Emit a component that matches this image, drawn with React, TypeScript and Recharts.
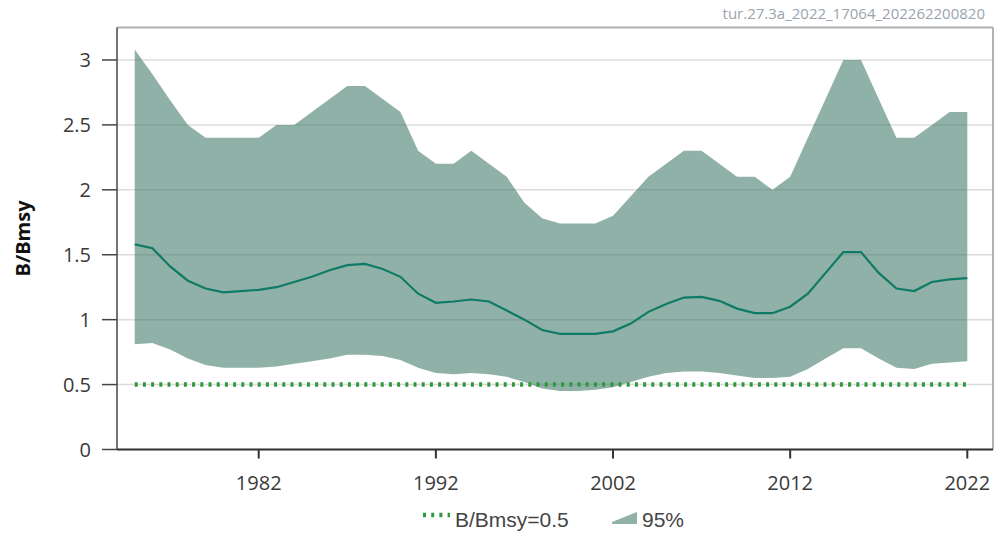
import React from 'react';
import { ComposedChart, Area, Line, XAxis, YAxis, CartesianGrid, ReferenceLine } from 'recharts';

const years = [1975,1976,1977,1978,1979,1980,1981,1982,1983,1984,1985,1986,1987,1988,1989,1990,1991,1992,1993,1994,1995,1996,1997,1998,1999,2000,2001,2002,2003,2004,2005,2006,2007,2008,2009,2010,2011,2012,2013,2014,2015,2016,2017,2018,2019,2020,2021,2022];
const upper = [3.08,2.89,2.69,2.5,2.4,2.4,2.4,2.4,2.5,2.5,2.6,2.7,2.8,2.8,2.7,2.6,2.3,2.2,2.2,2.3,2.2,2.1,1.9,1.78,1.74,1.74,1.74,1.8,1.95,2.1,2.2,2.3,2.3,2.2,2.1,2.1,2.0,2.1,2.4,2.7,3.0,3.0,2.7,2.4,2.4,2.5,2.6,2.6];
const lower = [0.81,0.82,0.77,0.7,0.65,0.63,0.63,0.63,0.64,0.66,0.68,0.7,0.73,0.73,0.72,0.69,0.63,0.59,0.58,0.59,0.58,0.56,0.52,0.47,0.45,0.45,0.46,0.48,0.52,0.56,0.59,0.6,0.6,0.59,0.57,0.55,0.55,0.56,0.62,0.7,0.78,0.78,0.7,0.63,0.62,0.66,0.67,0.68];
const central = [1.58,1.55,1.41,1.3,1.24,1.21,1.22,1.23,1.25,1.29,1.33,1.38,1.42,1.43,1.39,1.33,1.2,1.13,1.14,1.155,1.14,1.07,1.0,0.92,0.89,0.89,0.89,0.91,0.97,1.06,1.12,1.17,1.175,1.145,1.085,1.05,1.05,1.1,1.2,1.36,1.52,1.52,1.36,1.24,1.22,1.29,1.31,1.32];
const bmsyRef = 0.5;
const xTicks = [1982, 1992, 2002, 2012, 2022];
const yTicks = [0, 0.5, 1, 1.5, 2, 2.5, 3];
const yMax = 3.25;
const xDomain = [1974, 2023.45];
const watermark = 'tur.27.3a_2022_17064_202262200820';
const yLabel = 'B/Bmsy';
const legendRef = 'B/Bmsy=0.5';
const legendBand = '95%';

const data = years.map((y, i) => ({
  year: y,
  band: [lower[i], upper[i]],
  central: central[i],
  ref: bmsyRef,
}));

const tickStyle = { fontFamily: 'Open Sans', fontSize: 20, fill: '#3a3a3a' };

export default function App() {
  return (
    <div style={{ position: 'absolute', left: 0, top: 0, width: 996, height: 534, background: '#fff' }}>
      <ComposedChart
        width={996}
        height={534}
        data={data}
        margin={{ top: 27.5, right: 3, left: 0, bottom: 34.5 }}
      >
        <CartesianGrid vertical={false} stroke="#dcdcdc" strokeWidth={1.5} />
        <XAxis
          dataKey="year"
          type="number"
          domain={xDomain}
          ticks={xTicks}
          height={50}
          tickSize={9}
          tickMargin={17}
          tick={tickStyle}
          axisLine={{ stroke: '#333', strokeWidth: 2 }}
          tickLine={{ stroke: '#333', strokeWidth: 2 }}
          allowDataOverflow
        />
        <YAxis
          type="number"
          domain={[0, yMax]}
          ticks={yTicks}
          width={117}
          tickSize={15}
          tickMargin={11}
          tick={tickStyle}
          axisLine={{ stroke: '#444', strokeWidth: 1.5 }}
          tickLine={{ stroke: '#444', strokeWidth: 1.5 }}
          allowDataOverflow
        />
        <ReferenceLine y={yMax} stroke="#b3b3b3" strokeWidth={2} ifOverflow="visible" />
        <ReferenceLine x={xDomain[1]} stroke="#b3b3b3" strokeWidth={2} ifOverflow="visible" />
        <Line
          dataKey="ref"
          stroke="#2e9a3c"
          strokeWidth={4.5}
          strokeDasharray="3 5.2"
          dot={false}
          isAnimationActive={false}
        />
        <Area
          dataKey="band"
          type="linear"
          stroke="none"
          fill="#3b7565"
          fillOpacity={0.57}
          isAnimationActive={false}
        />
        <Line
          dataKey="central"
          type="linear"
          stroke="#0f7b67"
          strokeWidth={2.2}
          dot={false}
          isAnimationActive={false}
        />
      </ComposedChart>
      <svg
        width={996}
        height={534}
        style={{ position: 'absolute', left: 0, top: 0, pointerEvents: 'none' }}
      >
        <text x={985} y={19} textAnchor="end" fontFamily="Open Sans" fontSize={15} fill="#9aa4ae">
          {watermark}
        </text>
        <text
          x={22}
          y={238.5}
          transform="rotate(-90 22 238.5)"
          textAnchor="middle"
          dominantBaseline="central"
          fontFamily="Open Sans"
          fontWeight="bold"
          fontSize={20}
          fill="#111"
        >
          {yLabel}
        </text>
        <line x1={423} y1={515} x2={450} y2={515} stroke="#2e9a3c" strokeWidth={4.5} strokeDasharray="3 5.2" />
        <text x={455} y={527} fontFamily="Liberation Sans" fontSize={21} fill="#444">
          {legendRef}
        </text>
        <polygon points="612,522 637,512 637,524 612,524" fill="#3b7565" fillOpacity={0.57} />
        <text x={642} y={527} fontFamily="Liberation Sans" fontSize={21} fill="#444">
          {legendBand}
        </text>
      </svg>
    </div>
  );
}
